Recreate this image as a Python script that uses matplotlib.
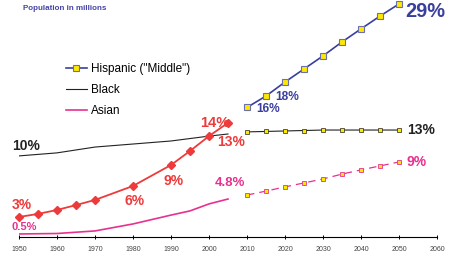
import matplotlib
matplotlib.use("Agg")
import matplotlib.pyplot as plt

plt.rcParams["font.family"] = ["Liberation Sans", "DejaVu Sans"]

BLUE = "#3a3f9e"
RED = "#ee3a3a"
PINK = "#e8318f"
BLACK = "#222222"
YELLOW = "#ffe800"

# values (arbitrary population scale, 0 at the axis)
hisp_hist_years = [1950, 1955, 1960, 1965, 1970, 1980, 1990, 1995, 2000, 2005]
hisp_hist = [8.6, 9.9, 11.6, 13.7, 15.9, 21.9, 30.9, 36.9, 43.3, 49.0]

proj_years = [2010, 2015, 2020, 2025, 2030, 2035, 2040, 2045, 2050]
hisp_proj = [55.6, 60.5, 66.5, 72.1, 77.7, 83.7, 89.3, 94.8, 100.0]

black_hist_years = [1950, 1960, 1970, 1980, 1990, 2000, 2005]
black_hist = [34.8, 36.1, 38.6, 39.9, 41.2, 43.3, 44.2]
black_proj = [45.1, 45.3, 45.5, 45.7, 45.9, 45.9, 45.9, 45.9, 45.9]

asian_hist_years = [1950, 1960, 1970, 1980, 1990, 1995, 2000, 2005]
asian_hist = [1.3, 1.5, 2.6, 5.6, 9.4, 11.2, 14.2, 16.3]
asian_proj = [18.0, 19.7, 21.5, 23.2, 24.9, 27.0, 28.8, 30.5, 32.2]

# (text, year, value, colour, size)
labels = [
    ("10%", 1948.2, 39.1, BLACK, 10),
    ("3%", 1948.2, 13.7, RED, 10),
    ("0.5%", 1948.0, 4.3, PINK, 8),
    ("6%", 1977.8, 15.4, RED, 10),
    ("9%", 1987.9, 24.0, RED, 10),
    ("14%", 1997.6, 49.0, RED, 10.5),
    ("13%", 2002.1, 40.8, RED, 10),
    ("4.8%", 2001.6, 23.2, PINK, 9.5),
    ("16%", 2012.4, 55.0, BLUE, 8.6),
    ("18%", 2017.4, 60.0, BLUE, 8.6),
    ("29%", 2051.6, 96.6, BLUE, 14.4),
    ("13%", 2052.1, 46.0, BLACK, 10),
    ("9%", 2052.1, 32.0, PINK, 10),
]
xticks = list(range(1950, 2061, 10))

fig = plt.figure(figsize=(4.5, 2.57), dpi=100)
ax = fig.add_axes([19 / 450, 20 / 257, 418 / 450, 237 / 257])

ax.plot(black_hist_years, black_hist, color=BLACK, lw=0.8, label="Black")
ax.plot(proj_years, black_proj, color=BLACK, lw=0.8, marker="s", ms=2.6,
        mfc=YELLOW, mec=BLACK, mew=0.5)

ax.plot(asian_hist_years, asian_hist, color=PINK, lw=1.2, label="Asian")
ax.plot(proj_years, asian_proj, color=PINK, lw=0.9, dashes=(6, 4),
        marker="s", ms=2.6, mfc=YELLOW, mec=PINK, mew=0.6)

ax.plot(hisp_hist_years, hisp_hist, color=RED, lw=1.3, marker="D", ms=4,
        mfc=RED, mec=RED, clip_on=False)
ax.plot(proj_years, hisp_proj, color=BLUE, lw=1.2, marker="s", ms=5,
        mfc=YELLOW, mec="#6a6fae", mew=0.8, label='Hispanic ("Middle")',
        clip_on=False)

for txt, x, y, c, s in labels:
    ax.text(x, y, txt, color=c, fontsize=s, fontweight="bold",
            ha="left", va="center", clip_on=False)

fig.text(23 / 450, 1 - 9 / 257, "Population in millions", color="#4545a5",
         fontsize=5.8, fontweight="bold", va="center", ha="left")

h, l = ax.get_legend_handles_labels()
order = [2, 0, 1]
ax.legend([h[i] for i in order], [l[i] for i in order], loc="upper left",
          bbox_to_anchor=(66 / 450, 1 - 63 / 257), bbox_transform=fig.transFigure,
          frameon=False, fontsize=8.5, handlelength=1.75, handletextpad=0.35,
          labelspacing=0.75, borderpad=0, borderaxespad=0, numpoints=1)

ax.set_xlim(1950, 2060)
ax.set_ylim(0, 101.7)
ax.set_xticks(xticks)
ax.set_yticks([])
for side in ["left", "right", "top"]:
    ax.spines[side].set_visible(False)
ax.spines["bottom"].set_linewidth(0.8)
ax.tick_params(axis="x", direction="inout", length=3, width=0.7,
               labelsize=5, labelcolor="#444444", pad=5)

fig.savefig("out.png", dpi=100)
